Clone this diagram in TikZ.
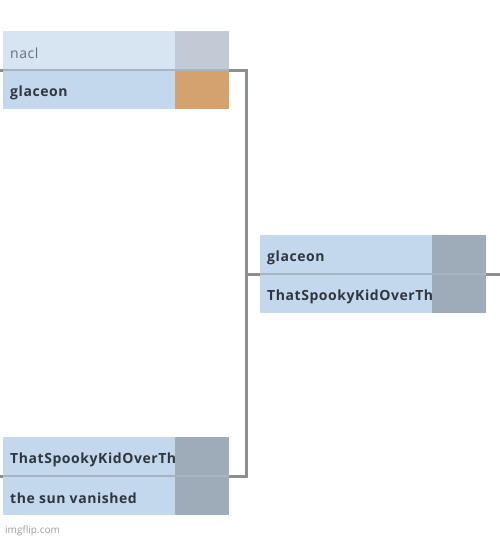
\documentclass[tikz,border=0pt]{standalone}
\usepackage{fontspec}
\setmainfont{Open Sans}
\newfontfamily\bracketfont[LetterSpace=4]{Open Sans}
\usepackage{tikz}
\usetikzlibrary{positioning}
\usepackage{xcolor}
\definecolor{paleblue}{HTML}{D7E5F3}
\definecolor{rowblue}{HTML}{C4D8ED}
\definecolor{greyscore}{HTML}{C1CAD5}
\definecolor{slatescore}{HTML}{9EABB8}
\definecolor{winorange}{HTML}{D4A26F}
\definecolor{wiregrey}{HTML}{8E8E8E}
\definecolor{splitgrey}{HTML}{A7B4C2}
\definecolor{nametext}{HTML}{2F3640}
\definecolor{losertext}{HTML}{6A7078}

\tikzset{
    namecell/.style={anchor=north west, minimum width=172pt, minimum height=39pt, inner sep=0pt, outer sep=0pt},
    scorecell/.style={anchor=north west, minimum width=54pt, minimum height=39pt, inner sep=0pt, outer sep=0pt},
    player/.style={anchor=base west, inner sep=0pt, yshift=-3pt, font=\bracketfont\fontsize{14}{16}\selectfont\bfseries, text=nametext},
    loser/.style={player, font=\bracketfont\fontsize{14}{16}\selectfont, text=losertext},
    wire/.style={draw=wiregrey, line width=3pt},
    split/.style={draw=splitgrey, line width=1.5pt}
}

\begin{document}
\begin{tikzpicture}[x=1pt, y=-1pt]
        \useasboundingbox[fill=white] (0,0) rectangle (500,538);

        % Match 1: nacl vs glaceon
        \begin{scope}[shift={(3,31)}]
            \node[namecell, fill=paleblue] (m1a) at (0,0) {};
            \node[namecell, fill=rowblue] (m1b) at (0,39) {};
            \node[scorecell, fill=greyscore] (s1a) at (172,0) {};
            \node[scorecell, fill=winorange] (s1b) at (172,39) {};
            \draw[split] (m1a.south west) -- (s1a.south east);
            \node[loser, right=7pt of m1a.west] (p1a) {nacl};
            \node[player, right=7pt of m1b.west] (p1b) {glaceon};
            \coordinate (m1in) at (0,39);
            \coordinate (m1out) at (226,39);
        \end{scope}

        % Match 2: glaceon vs ThatSpookyKidOverTh...
        \begin{scope}[shift={(260,235)}]
            \node[namecell, fill=rowblue] (m2a) at (0,0) {};
            \node[namecell, fill=rowblue] (m2b) at (0,39) {};
            \node[scorecell, fill=slatescore] (s2a) at (172,0) {};
            \node[scorecell, fill=slatescore] (s2b) at (172,39) {};
            \draw[split] (m2a.south west) -- (s2a.south east);
            \node[player, right=7pt of m2a.west] (p2a) {glaceon};
            \begin{scope}
                \clip (m2b.south west) rectangle (m2b.north east);
                \node[player, right=7pt of m2b.west] (p2b) {ThatSpookyKidOverTh};
            \end{scope}
            \coordinate (m2in) at (0,39);
            \coordinate (m2out) at (226,39);
        \end{scope}

        % Match 3: ThatSpookyKidOverTh... vs the sun vanished
        \begin{scope}[shift={(3,437)}]
            \node[namecell, fill=rowblue] (m3a) at (0,0) {};
            \node[namecell, fill=rowblue] (m3b) at (0,39) {};
            \node[scorecell, fill=slatescore] (s3a) at (172,0) {};
            \node[scorecell, fill=slatescore] (s3b) at (172,39) {};
            \draw[split] (m3a.south west) -- (s3a.south east);
            \begin{scope}
                \clip (m3a.south west) rectangle (m3a.north east);
                \node[player, right=7pt of m3a.west] (p3a) {ThatSpookyKidOverTh};
            \end{scope}
            \node[player, right=7pt of m3b.west] (p3b) {the sun vanished};
            \coordinate (m3in) at (0,39);
            \coordinate (m3out) at (226,39);
        \end{scope}

        % bracket wires
        \draw[wire] (m1out) -- ++(17,0) |- (m3out);
        \draw[wire] (m2in) -- ++(-14,0);
        \draw[wire] (m2out) -- ++(14,0);
        \draw[wire] (m1in) -- ++(-3,0);
        \draw[wire] (m3in) -- ++(-3,0);

        \node[anchor=base west, inner sep=0pt, font=\fontsize{10}{11}\selectfont, text=gray!75] (mark) at (5,533) {imgflip.com};
    \end{tikzpicture}
\end{document}
